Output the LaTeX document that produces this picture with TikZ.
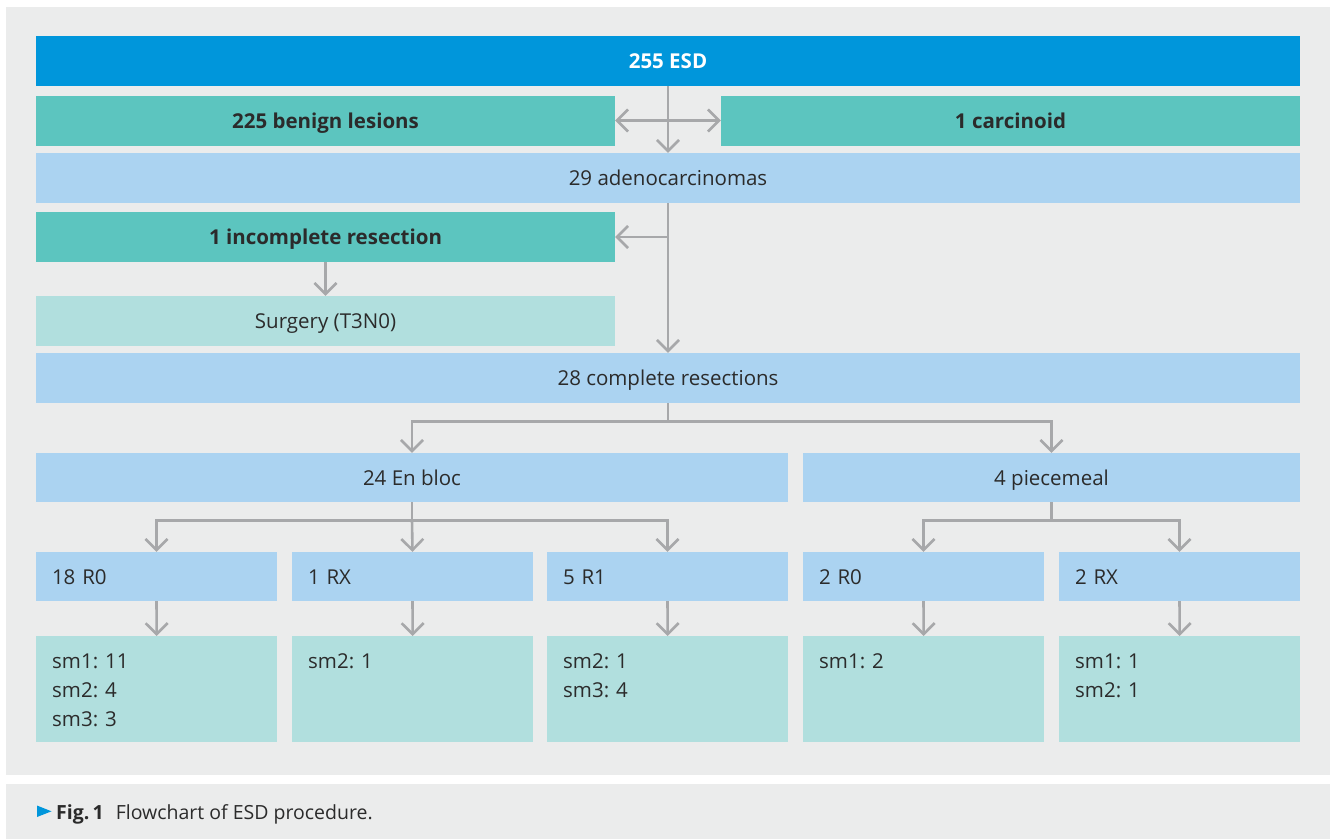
\documentclass[tikz,border=0pt]{standalone}
\usepackage{fontspec}
\setmainfont{Open Sans}
\frenchspacing
\usetikzlibrary{arrows.meta}

\definecolor{esdblue}{HTML}{0096DB}
\definecolor{benteal}{HTML}{5CC5BF}
\definecolor{adeblue}{HTML}{ABD3F1}
\definecolor{smteal}{HTML}{B1DFDE}
\definecolor{panelgray}{HTML}{EBECEC}
\definecolor{arrgray}{HTML}{A7A8AA}
\definecolor{txtdark}{HTML}{2B2B2B}

\tikzset{
  box/.style={inner sep=0pt, minimum height=50pt, text height=15pt, text depth=0pt,
    text=txtdark, font=\fontsize{20.5}{25}\selectfont},
  topbox/.style={box, fill=esdblue, text=white, font=\fontsize{20.5}{25}\selectfont\bfseries},
  tealbox/.style={box, fill=benteal, font=\fontsize{20.5}{25}\selectfont\bfseries},
  bluebox/.style={box, fill=adeblue},
  lightbox/.style={box, fill=smteal},
  rbox/.style={box, fill=adeblue, minimum height=49pt, text width=209pt, inner xsep=16pt, align=left},
  smbox/.style={box, fill=smteal, anchor=north west, text width=209pt, inner xsep=16pt, align=left,
    text height=32pt, text depth=74pt, font=\fontsize{20.5}{29}\selectfont},
  flow/.style={draw=arrgray, line width=2.6pt, >={Straight Barb[length=11pt,width=22pt]}},
}

\begin{document}
\begin{tikzpicture}[x=1pt,y=-1pt]

        % Background
        \useasboundingbox (0,0) rectangle (1332,839);
        \fill[panelgray] (6,7) rectangle (1330,775);
        \fill[panelgray] (6,784) rectangle (1330,839);

        % Upper boxes
        \node[topbox, minimum width=1264pt] (esd) at (668,61) {255 ESD};
        \node[tealbox, minimum width=579pt] (benign) at (325.5,120.5) {225 benign lesions};
        \node[tealbox, minimum width=579pt] (carcinoid) at (1010.5,120.5) {1 carcinoid};
        \node[bluebox, minimum width=1264pt] (adeno) at (668,178) {29 adenocarcinomas};
        \node[tealbox, minimum width=579pt] (incomplete) at (325.5,237) {1 incomplete resection};
        \node[lightbox, minimum width=579pt] (surgery) at (325.5,321) {Surgery (T3N0)};
        \node[bluebox, minimum width=1264pt] (complete) at (668,378) {28 complete resections};
        \node[bluebox, minimum width=752pt, minimum height=49pt] (enbloc) at (412,477.5) {24 En bloc};
        \node[bluebox, minimum width=497pt, minimum height=49pt] (piecemeal) at (1051.5,477.5) {4 piecemeal};

        % Resection margins
        \node[rbox] (ra) at (156.5,576.5) {18 R0};
        \node[rbox] (rb) at (412.5,576.5) {1 RX};
        \node[rbox] (rc) at (667.5,576.5) {5 R1};
        \node[rbox] (rd) at (923.5,576.5) {2 R0};
        \node[rbox] (re) at (1179.5,576.5) {2 RX};

        % Invasion depth
        \node[smbox] (sma) at (36,636) {sm1: 11\\sm2: 4\\sm3: 3};
        \node[smbox] (smb) at (292,636) {sm2: 1};
        \node[smbox] (smc) at (547,636) {sm2: 1\\sm3: 4};
        \node[smbox] (smd) at (803,636) {sm1: 2};
        \node[smbox] (sme) at (1059,636) {sm1: 1\\sm2: 1};

        % Arrows
        \draw[flow,->] (esd.south) -- (adeno.north);
        \draw[flow,<->] (benign.east) -- (carcinoid.west);
        \coordinate (split) at (adeno.south |- incomplete.east);
        \draw[flow,->] (adeno.south) -- (complete.north);
        \draw[flow,->] (split) -- (incomplete.east);
        \draw[flow,->] (incomplete.south) -- (surgery.north);

        \coordinate (fork) at ([yshift=-18pt]complete.south);
        \draw[flow,->] (complete.south) -- (fork) -| (enbloc.north);
        \draw[flow,->] (fork) -| (piecemeal.north);

        \coordinate (forkA) at ([yshift=-18pt]enbloc.south);
        \draw[flow,->] (enbloc.south) -- (forkA) -| (ra.north);
        \draw[flow,->] (forkA) -- (rb.north);
        \draw[flow,->] (forkA) -| (rc.north);

        \coordinate (forkB) at ([yshift=-18pt]piecemeal.south);
        \draw[flow,->] (piecemeal.south) -- (forkB) -| (rd.north);
        \draw[flow,->] (forkB) -| (re.north);

        \draw[flow,->] (ra.south) -- (sma.north);
        \draw[flow,->] (rb.south) -- (smb.north);
        \draw[flow,->] (rc.south) -- (smc.north);
        \draw[flow,->] (rd.south) -- (smd.north);
        \draw[flow,->] (re.south) -- (sme.north);

        % Caption
        \fill[esdblue] (37,805.5) -- (51.5,811.3) -- (37,817) -- cycle;
        \node[anchor=base west, inner sep=0pt, text=txtdark, font=\fontsize{19.5}{23}\selectfont] (caption)
            at (56,819.5) {\textbf{Fig.\,1}\hspace{12pt}Flowchart of ESD procedure.};

\end{tikzpicture}
\end{document}
